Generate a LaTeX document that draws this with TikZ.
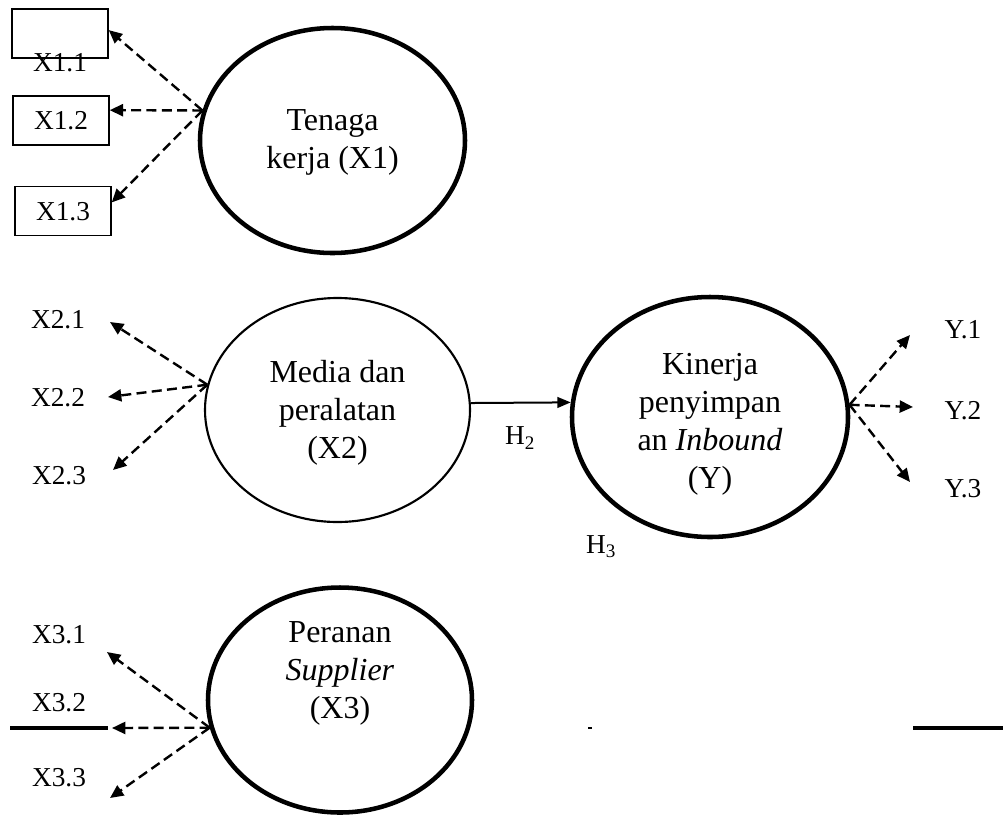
\documentclass[tikz,border=0pt]{standalone}
\usepackage{fontspec}
\setmainfont{Liberation Serif}
\usetikzlibrary{arrows.meta,shapes.geometric}

\begin{document}
\begin{tikzpicture}[x=0.75pt,y=0.75pt,yscale=-1,xscale=1,
  latent/.style={draw,ellipse,inner sep=0pt,line width=3.4pt},
  latentthin/.style={latent,line width=1.6pt},
  lvtext/.style={align=center,inner sep=0pt,font=\fontsize{24}{28.5}\selectfont},
  indbox/.style={draw,line width=1.1pt,minimum width=72pt,minimum height=36.75pt,inner sep=0pt},
  ind/.style={inner sep=0pt,font=\fontsize{20.5}{24}\selectfont},
  load/.style={line width=1.8pt,dash pattern={on 7.5pt off 4pt},-{Triangle[length=10pt,width=9pt]}},
  hyparrow/.style={line width=1.5pt,-{Triangle[length=10pt,width=8pt]}},
  stray/.style={line width=3pt}
]
\useasboundingbox (0,0) rectangle (1003,815);

%Shape: Ellipse X1
\node [latent,minimum width=198.75pt,minimum height=168.75pt] (x1) at (332.5,140.5) {};
%Shape: Ellipse X2
\node [latentthin,minimum width=198.75pt,minimum height=168pt] (x2) at (337.5,410) {};
%Shape: Ellipse Y
\node [latent,minimum width=207pt,minimum height=180pt] (y) at (710,417) {};
%Shape: Ellipse X3
\node [latent,minimum width=198pt,minimum height=168.75pt] (x3) at (340,700) {};

% Text Node
\node [lvtext] (x1txt) at (332.5,142) {Tenaga\\kerja (X1)};
% Text Node
\node [lvtext] (x2txt) at (337.5,413) {Media dan\\peralatan\\(X2)};
% Text Node
\node [lvtext] (ytxt) at (710,424) {Kinerja\\penyimpan\\an \textit{Inbound}\\(Y)};
% Text Node
\node [lvtext] (x3txt) at (340,673) {Peranan\\\textit{Supplier}\\(X3)};

%Shape: Rectangle
\node [indbox] (x11) at (60,33.5) {};
\node [indbox] (x12) at (61,120.5) {};
\node [indbox] (x13) at (63,211) {};

% Text Node
\node [ind] (i11) at (60,63) {X1.1};
\node [ind] (i12) at (61,120.5) {X1.2};
\node [ind] (i13) at (63,212) {X1.3};
\node [ind] (i21) at (58,320) {X2.1};
\node [ind] (i22) at (58,398) {X2.2};
\node [ind] (i23) at (59,476) {X2.3};
\node [ind] (i31) at (59,635) {X3.1};
\node [ind] (i32) at (59,703) {X3.2};
\node [ind] (i33) at (59,778) {X3.3};
\node [ind] (iy1) at (963,330) {Y.1};
\node [ind] (iy2) at (963,411) {Y.2};
\node [ind] (iy3) at (963,489) {Y.3};
\node [ind] (h2) at (520,438) {H\textsubscript{2}};
\node [ind] (h3) at (601,547) {H\textsubscript{3}};

%arrow tips
\coordinate (t21) at (110,322);
\coordinate (t22) at (108,397);
\coordinate (t23) at (113,470);
\coordinate (t31) at (107,652);
\coordinate (t32) at (112,728);
\coordinate (t33) at (110,798);
\coordinate (ty1) at (910,335);
\coordinate (ty2) at (913,407);
\coordinate (ty3) at (910,482);

%Straight Lines
\draw [load] (x1.167) -- (x11.4);
\draw [load] (x1.167) -- (x12.12);
\draw [load] (x1.167) -- (x13.10);
\draw [load] (x2.169) -- (t21);
\draw [load] (x2.169) -- (t22);
\draw [load] (x2.169) -- (t23);
\draw [load] (x3.192) -- (t31);
\draw [load] (x3.192) -- (t32);
\draw [load] (x3.192) -- (t33);
\draw [load] (y.5) -- (ty1);
\draw [load] (y.5) -- (ty2);
\draw [load] (y.5) -- (ty3);
\draw [hyparrow] (x2.3) -- (y.174);

%Straight Lines
\coordinate (s1) at (10,728);
\coordinate (s2) at (588,728);
\coordinate (s3) at (592,728);
\coordinate (s4) at (913,728);
\coordinate (s5) at (1003,728);
\draw [stray] (s1) -- ([xshift=-3pt]t32);
\draw [line width=0.8pt] (s2) -- (s3);
\draw [stray] (s4) -- (s5);

\end{tikzpicture}
\end{document}
